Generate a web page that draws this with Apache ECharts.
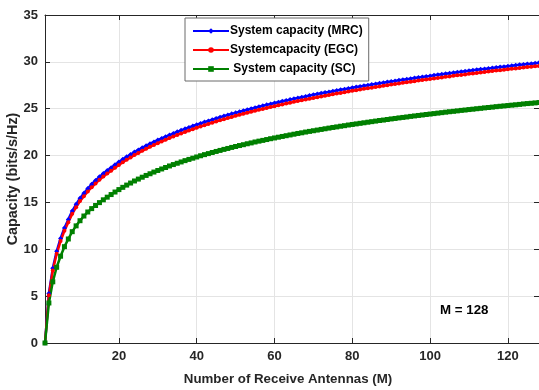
<!DOCTYPE html>
<html>
<head>
<meta charset="utf-8">
<script src="https://cdn.jsdelivr.net/npm/echarts@6/dist/echarts.min.js"></script>
<style>
html,body{margin:0;padding:0;background:#fff;}
#chart{width:539px;height:390px;}
</style>
</head>
<body>
<div id="chart"></div>
<script>
// Number of receive antennas (x values)
const antennas = [1,2,3,4,5,6,7,8,9,10,11,12,13,14,15,16,17,18,19,20,21,22,23,24,25,26,27,28,29,30,31,32,33,34,35,36,37,38,39,40,41,42,43,44,45,46,47,48,49,50,51,52,53,54,55,56,57,58,59,60,61,62,63,64,65,66,67,68,69,70,71,72,73,74,75,76,77,78,79,80,81,82,83,84,85,86,87,88,89,90,91,92,93,94,95,96,97,98,99,100,101,102,103,104,105,106,107,108,109,110,111,112,113,114,115,116,117,118,119,120,121,122,123,124,125,126,127,128];

const capacityMRC = [0,5.29,7.98,9.79,11.16,12.27,13.19,14.08,14.80,15.45,15.97,16.48,16.94,17.35,17.73,18.08,18.41,18.71,19.02,19.32,19.60,19.87,20.12,20.37,20.60,20.83,21.04,21.25,21.45,21.65,21.83,22.02,22.19,22.36,22.53,22.69,22.85,23.00,23.15,23.29,23.43,23.57,23.70,23.83,23.96,24.09,24.21,24.33,24.45,24.56,24.68,24.79,24.89,25.00,25.11,25.21,25.31,25.41,25.51,25.60,25.69,25.79,25.88,25.97,26.06,26.14,26.23,26.31,26.40,26.48,26.56,26.64,26.72,26.79,26.87,26.94,27.02,27.09,27.16,27.24,27.31,27.38,27.45,27.51,27.58,27.65,27.71,27.78,27.84,27.90,27.97,28.03,28.09,28.15,28.21,28.27,28.33,28.39,28.45,28.50,28.56,28.62,28.67,28.73,28.78,28.83,28.89,28.94,28.99,29.04,29.10,29.15,29.20,29.25,29.30,29.35,29.39,29.44,29.49,29.54,29.58,29.63,29.68,29.72,29.77,29.81,29.86,29.90];

const capacityEGC = [0,5.10,7.73,9.52,10.88,11.98,12.89,13.78,14.49,15.14,15.66,16.17,16.62,17.03,17.41,17.77,18.09,18.39,18.71,19.00,19.28,19.55,19.80,20.05,20.28,20.51,20.72,20.93,21.13,21.32,21.51,21.69,21.87,22.04,22.20,22.36,22.52,22.67,22.82,22.97,23.11,23.24,23.38,23.51,23.64,23.76,23.88,24.00,24.12,24.24,24.35,24.46,24.57,24.67,24.78,24.88,24.98,25.08,25.18,25.27,25.37,25.46,25.55,25.64,25.73,25.82,25.90,25.99,26.07,26.15,26.23,26.31,26.39,26.47,26.54,26.62,26.69,26.76,26.84,26.91,26.98,27.05,27.12,27.19,27.25,27.32,27.38,27.45,27.51,27.58,27.64,27.70,27.76,27.82,27.88,27.94,28.00,28.06,28.12,28.17,28.23,28.29,28.34,28.40,28.45,28.51,28.56,28.61,28.66,28.72,28.77,28.82,28.87,28.92,28.97,29.02,29.07,29.11,29.16,29.21,29.26,29.30,29.35,29.39,29.44,29.49,29.53,29.57];

const capacitySC = [0,4.27,6.53,8.08,9.26,10.28,11.10,11.88,12.50,13.05,13.55,13.98,14.34,14.67,14.98,15.28,15.56,15.84,16.11,16.37,16.61,16.85,17.07,17.29,17.49,17.69,17.88,18.06,18.24,18.41,18.57,18.73,18.89,19.04,19.18,19.32,19.46,19.59,19.72,19.85,19.98,20.10,20.21,20.33,20.44,20.55,20.66,20.76,20.87,20.97,21.07,21.16,21.26,21.35,21.45,21.54,21.62,21.71,21.80,21.88,21.96,22.04,22.12,22.20,22.28,22.36,22.43,22.51,22.58,22.65,22.72,22.79,22.86,22.93,23.00,23.06,23.13,23.19,23.26,23.32,23.38,23.44,23.50,23.56,23.62,23.68,23.74,23.79,23.85,23.91,23.96,24.02,24.07,24.12,24.18,24.23,24.28,24.33,24.38,24.43,24.48,24.53,24.58,24.63,24.68,24.72,24.77,24.82,24.86,24.91,24.95,25.00,25.04,25.09,25.13,25.17,25.22,25.26,25.30,25.34,25.38,25.42,25.46,25.51,25.55,25.58,25.62,25.66];

const seriesNames = ['System capacity (MRC)', 'Systemcapacity (EGC)', ' System capacity (SC)'];
const xTickValues = [20, 40, 60, 80, 100, 120];
const xAxisTitle = 'Number of Receive Antennas (M)';
const yAxisTitle = 'Capacity (bits/s/Hz)';
const annotation = 'M = 128';

const FONT = '"Liberation Sans", Arial, sans-serif';
const AX = '#262626';
const GRIDC = '#e4e4e4';

function pairs(vals) { return antennas.map((m, i) => [m, vals[i]]); }

const chart = echarts.init(document.getElementById('chart'), null, {renderer: 'canvas'});

const baseX = {
  type: 'value', min: 1, max: 128,
  axisLine: {onZero: false, lineStyle: {color: AX, width: 1}},
  axisTick: {inside: true, length: 5, customValues: xTickValues, lineStyle: {color: AX}},
  axisLabel: {customValues: xTickValues, color: AX, fontWeight: 'bold', fontSize: 13, fontFamily: FONT, margin: 7},
  splitLine: {show: true, lineStyle: {color: GRIDC, width: 1}}
};
const baseY = {
  type: 'value', min: 0, max: 35, interval: 5,
  axisLine: {show: true, onZero: false, lineStyle: {color: AX, width: 1}},
  axisTick: {show: true, inside: true, length: 5, lineStyle: {color: AX}},
  axisLabel: {color: AX, fontWeight: 'bold', fontSize: 13, fontFamily: FONT, margin: 7},
  splitLine: {show: true, lineStyle: {color: GRIDC, width: 1}}
};

const option = {
  backgroundColor: '#fff',
  animation: false,
  grid: {left: 45, top: 15, width: 497, height: 328, containLabel: false},
  xAxis: [
    baseX,
    Object.assign({}, baseX, {position: 'top', axisLabel: {show: false, customValues: xTickValues}, splitLine: {show: false}})
  ],
  yAxis: [
    baseY,
    Object.assign({}, baseY, {position: 'right', axisLabel: {show: false}, splitLine: {show: false}})
  ],
  legend: {
    left: 185, top: 18, orient: 'vertical',
    padding: [6, 6, 5, 7], itemGap: 5, itemWidth: 36, itemHeight: 7,
    backgroundColor: '#fff', borderColor: '#6a6a6a', borderWidth: 1,
    textStyle: {fontFamily: FONT, fontWeight: 'bold', fontSize: 12, color: '#000', lineHeight: 14, padding: [0, 0, 0, -4]},
    data: seriesNames
  },
  graphic: [
    {type: 'text', left: 440, top: 304, style: {text: annotation, font: 'bold 13.3px ' + FONT, fill: '#000'}},
    {type: 'text', x: 288, y: 379, style: {text: xAxisTitle, font: 'bold 13.3px ' + FONT, fill: AX, align: 'center', verticalAlign: 'middle'}},
    {type: 'text', x: 13, y: 179, rotation: Math.PI / 2, style: {text: yAxisTitle, font: 'bold 14.4px ' + FONT, fill: AX, align: 'center', verticalAlign: 'middle'}}
  ],
  series: [
    {name: seriesNames[0], type: 'line', data: pairs(capacityMRC), color: '#0000ff',
     symbol: 'diamond', symbolSize: 5, showAllSymbol: true,
     lineStyle: {width: 2.5, color: '#0000ff'}, itemStyle: {color: '#0000ff'}},
    {name: seriesNames[1], type: 'line', data: pairs(capacityEGC), color: '#ff0000',
     symbol: 'circle', symbolSize: 4, showAllSymbol: true,
     lineStyle: {width: 2.5, color: '#ff0000'}, itemStyle: {color: '#ff0000'}},
    {name: seriesNames[2], type: 'line', data: pairs(capacitySC), color: '#008000',
     symbol: 'rect', symbolSize: 5, showAllSymbol: true,
     lineStyle: {width: 2.5, color: '#008000'}, itemStyle: {color: '#008000'}}
  ]
};
chart.setOption(option);
</script>
</body>
</html>
